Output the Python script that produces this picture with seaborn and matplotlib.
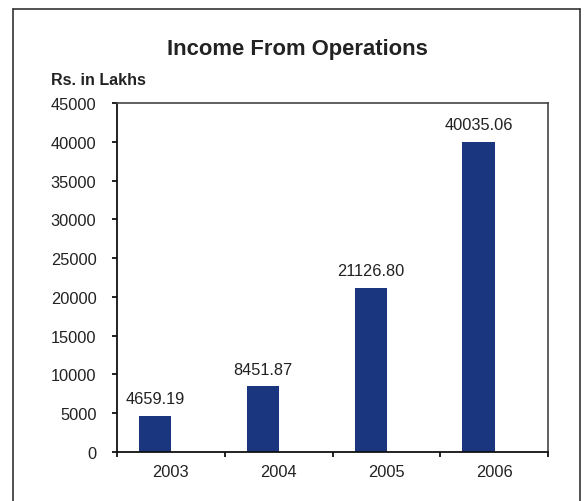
import matplotlib
matplotlib.use("Agg")
import matplotlib.pyplot as plt
from matplotlib.lines import Line2D
import seaborn as sns
import pandas as pd

years = ["2003", "2004", "2005", "2006"]
income = [4659.19, 8451.87, 21126.80, 40035.06]
value_labels = ["4659.19", "8451.87", "21126.80", "40035.06"]
y_ticks = [0, 5000, 10000, 15000, 20000, 25000, 30000, 35000, 40000, 45000]

sns.set_theme(style="white")
plt.rcParams["font.family"] = ["Liberation Sans", "DejaVu Sans"]

df = pd.DataFrame({"year": years, "income": income})

fig = plt.figure(figsize=(5.87, 5.02), dpi=100)
ax = fig.add_axes([0.1993, 0.0976, 0.7343, 0.6952])

sns.barplot(data=df, x="year", y="income", color="#1A367E", saturation=1,
            width=0.3, ax=ax)

# bars sit a little left of each category centre
for p in ax.patches:
    p.set_x(p.get_x() - 0.145)
    p.set_edgecolor("none")

ax.bar_label(ax.containers[0], labels=value_labels, padding=7,
             fontsize=11.8, color="#222222")

ax.set_xlim(-0.5, 3.5)
ax.set_ylim(0, 45000)
ax.set_yticks(y_ticks)
ax.set_yticklabels([str(v) for v in y_ticks])
ax.set_xlabel("")
ax.set_ylabel("")

# category boundary ticks on x, labels centred between them
ax.set_xticks([-0.5, 0.5, 1.5, 2.5, 3.5])
ax.set_xticklabels([])
ax.set_xticks([0, 1, 2, 3], minor=True)
ax.set_xticklabels(years, minor=True)
ax.tick_params(axis="x", which="major", direction="out", length=3.3, width=1.3,
               color="#111111", bottom=True)
ax.tick_params(axis="x", which="minor", length=0, labelsize=11.8,
               labelcolor="#222222", pad=8.3)
ax.tick_params(axis="y", direction="out", length=3.3, width=1.3,
               color="#111111", left=True, labelsize=11.8,
               labelcolor="#222222", pad=11.5)

for side in ["left", "bottom"]:
    ax.spines[side].set_color("#111111")
    ax.spines[side].set_linewidth(1.3)
for side in ["top", "right"]:
    ax.spines[side].set_visible(True)
    ax.spines[side].set_color("#444444")
    ax.spines[side].set_linewidth(1.2)

fig.text(0.506, 0.901, "Income From Operations", ha="center", va="center",
         fontsize=15.8, fontweight="bold", color="#222222")
fig.text(0.087, 0.840, "Rs. in Lakhs", ha="left", va="center",
         fontsize=11.5, fontweight="bold", color="#222222")

# outer chart frame
frame_kw = dict(color="#333333", linewidth=1.2, transform=fig.transFigure)
x0, x1, y1 = 13 / 587, 580 / 587, 1 - 10 / 502
fig.add_artist(Line2D([x0, x0], [0, y1], **frame_kw))
fig.add_artist(Line2D([x0, x1], [y1, y1], **frame_kw))
fig.add_artist(Line2D([x1, x1], [0, y1], **frame_kw))

fig.savefig("out.png", dpi=100)
